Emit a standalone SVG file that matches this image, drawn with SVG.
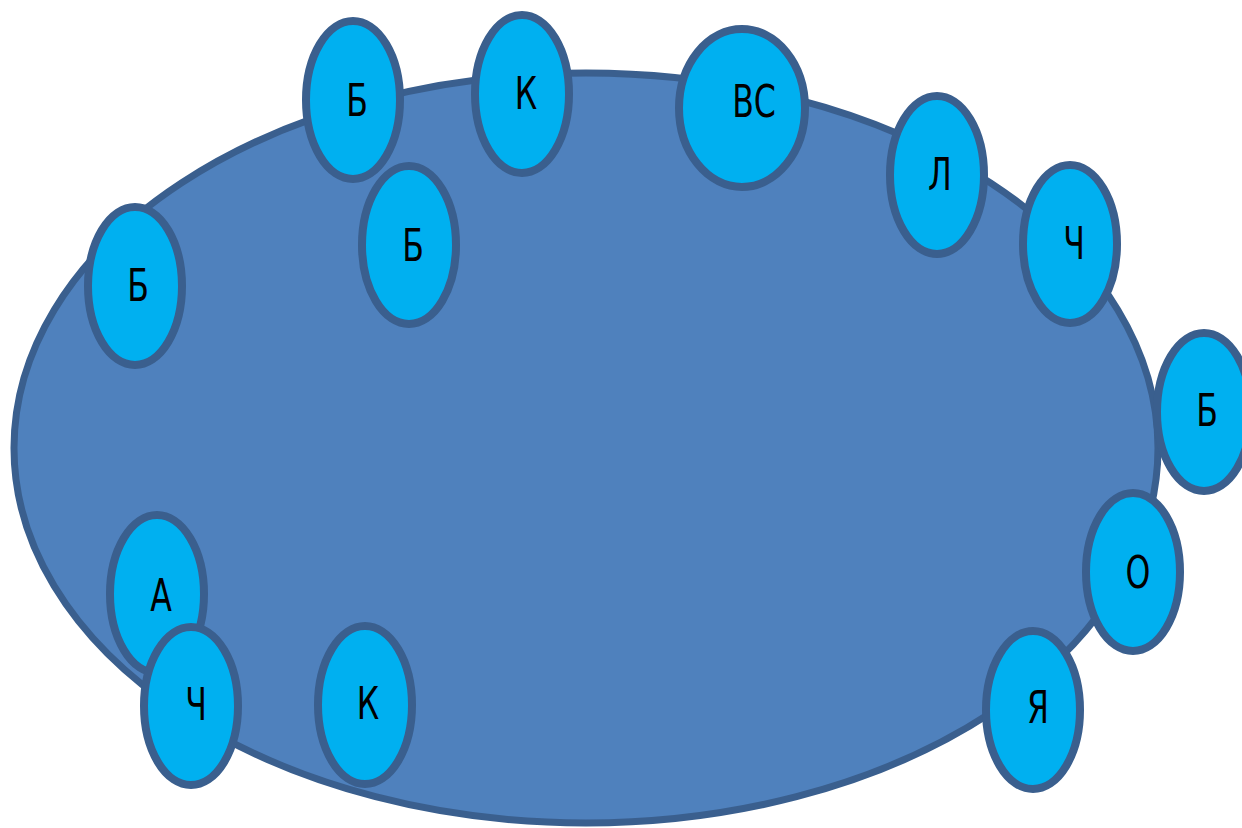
<svg xmlns="http://www.w3.org/2000/svg" width="1242" height="828" viewBox="0 0 1242 828">
<style>
.big{fill:#4F81BD;stroke:#3A5F8E;stroke-width:7}
.n ellipse{fill:#00B0F0;stroke:#3A5F8E;stroke-width:8}
.n text{font-family:"DejaVu Sans Condensed","Liberation Sans Narrow","Liberation Sans",sans-serif;font-stretch:condensed;font-size:45px;fill:#000;text-anchor:middle;dominant-baseline:central}
</style>
<rect width="1242" height="828" fill="#fff"/>
<g id="main"><ellipse class="big" cx="586" cy="448" rx="572" ry="375"/></g>
<g id="connectors"></g>
<g id="n1" class="n"><ellipse cx="353" cy="100" rx="47" ry="79"/><text transform="translate(357,101) scale(0.78,1)">Б</text></g>
<g id="n2" class="n"><ellipse cx="409" cy="245" rx="47" ry="79"/><text transform="translate(413,246) scale(0.78,1)">Б</text></g>
<g id="n3" class="n"><ellipse cx="522" cy="94" rx="47" ry="79"/><text transform="translate(526,94) scale(0.78,1)">К</text></g>
<g id="n4" class="n"><ellipse cx="742" cy="108" rx="63" ry="79"/><text transform="translate(754,102) scale(0.78,1)">ВС</text></g>
<g id="n5" class="n"><ellipse cx="937" cy="175" rx="47" ry="79"/><text transform="translate(940,175) scale(0.78,1)">Л</text></g>
<g id="n6" class="n"><ellipse cx="1070" cy="244" rx="47" ry="79"/><text transform="translate(1074,244) scale(0.78,1)">Ч</text></g>
<g id="n7" class="n"><ellipse cx="1204" cy="412" rx="47" ry="79"/><text transform="translate(1207,411) scale(0.78,1)">Б</text></g>
<g id="n8" class="n"><ellipse cx="1133" cy="572" rx="47" ry="79"/><text transform="translate(1138,573) scale(0.78,1)">О</text></g>
<g id="n9" class="n"><ellipse cx="1033" cy="710" rx="47" ry="79"/><text transform="translate(1038,708) scale(0.78,1)">Я</text></g>
<g id="n10" class="n"><ellipse cx="365" cy="705" rx="47" ry="79"/><text transform="translate(368,704) scale(0.78,1)">К</text></g>
<g id="n11" class="n"><ellipse cx="157" cy="594" rx="47" ry="79"/><text transform="translate(161,596) scale(0.78,1)">А</text></g>
<g id="n12" class="n"><ellipse cx="191" cy="706" rx="47" ry="79"/><text transform="translate(196,705) scale(0.78,1)">Ч</text></g>
<g id="n13" class="n"><ellipse cx="135" cy="286" rx="47" ry="79"/><text transform="translate(138,286) scale(0.78,1)">Б</text></g>
</svg>
